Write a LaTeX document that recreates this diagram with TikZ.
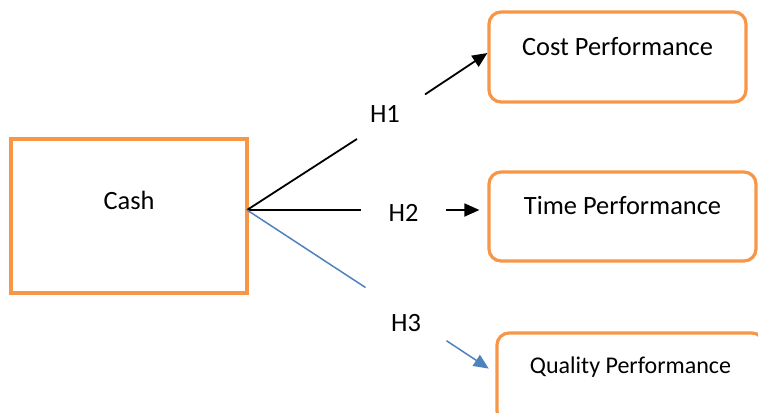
\documentclass[tikz,border=0pt]{standalone}
\usepackage{fontspec}
\setmainfont{Carlito}
\usepackage{xcolor}
\usetikzlibrary{arrows.meta}
\definecolor{boxorange}{HTML}{F79646}
\definecolor{linkblue}{HTML}{4F81BD}
\tikzset{
  cashbox/.style={draw=boxorange, line width=1.6pt, minimum width=118pt, minimum height=77pt, inner sep=0pt, font=\fontsize{13.2}{15}\selectfont, text height=9pt, text depth=15.5pt},
  perf/.style={draw=boxorange, line width=1.6pt, rounded corners=6pt, minimum width=128.5pt, minimum height=45pt, inner sep=0pt, font=\fontsize{13.2}{15}\selectfont, text height=9pt},
  gap/.style={inner sep=0pt, outer sep=0pt, font=\fontsize{13.2}{15}\selectfont},
  link/.style={line width=0.9pt, black},
  linkarrow/.style={link, -{Triangle[length=7.5pt, width=6.5pt]}},
  qlink/.style={line width=0.75pt, linkblue},
  qlinkarrow/.style={qlink, -{Triangle[length=7.5pt, width=6.5pt]}}
}
\begin{document}
\begin{tikzpicture}[x=0.5pt, y=-0.5pt]
  \useasboundingbox (0,0) rectangle (758,412);
  \clip (0,0) rectangle (758,412);

  \node[cashbox] (cash) at (129,216) {Cash};
  \node[perf, text depth=10.5pt] (cost) at (617.5,57) {Cost Performance};
  \node[perf, minimum width=133.5pt, minimum height=44.5pt, text depth=11pt] (time) at (622.5,216.5) {Time Performance};
  \node[perf, minimum width=133.5pt, font=\fontsize{12}{14}\selectfont, text depth=13.3pt] (quality) at (630.5,378) {Quality Performance};

  % hypothesis labels sit in the gaps of the links
  \coordinate (hub) at (247,210);
  \node[gap, minimum width=34pt, minimum height=24pt, text width=21pt, align=left, text height=9pt, text depth=4pt] (h1) at (391,117) {H1};
  \node[gap, minimum width=42.5pt, minimum height=16pt, text height=11pt, text depth=0pt] (h2) at (403.5,210) {H2};
  \node[gap, minimum width=40.5pt, minimum height=30pt, text height=17pt, text depth=0pt] (h3) at (406,314) {H3};

  \draw[link] (hub) -- (h1);
  \draw[linkarrow] (h1) -- ([yshift=2pt]cost.west);
  \draw[link] (hub) -- (h2);
  \draw[linkarrow, shorten >=4pt] (h2) -- ([yshift=3.25pt]time.west);
  \draw[qlink] (hub) -- (h3);
  \draw[qlinkarrow, shorten >=4pt] (h3) -- ([yshift=2.5pt]quality.west);
\end{tikzpicture}
\end{document}
